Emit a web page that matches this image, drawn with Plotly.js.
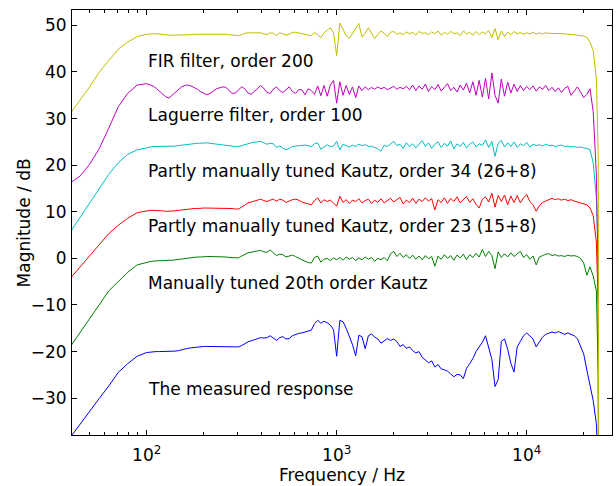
<!DOCTYPE html>
<html>
<head>
<meta charset="utf-8">
<script src="https://cdn.plot.ly/plotly-3.0.1.min.js"></script>
<style>html,body{margin:0;padding:0;background:#fff;}#chart{width:616px;height:486px;}</style>
</head>
<body>
<div id="chart"></div>
<script>
// Frequency grid (Hz)
var freqHz = [
  40, 44.7, 50.1, 56.2, 63.1, 70.8, 79.4, 89.1,
  100, 103.9, 108, 112.2, 116.6, 121.2, 125.9, 130.8, 135.9, 141.3,
  146.8, 152.5, 158.5, 164.7, 171.1, 177.8, 184.8, 192, 199.5, 207.3,
  215.4, 223.9, 232.6, 241.7, 251.2, 261, 271.2, 281.8, 292.9, 304.3,
  316.2, 328.6, 341.5, 354.8, 368.7, 383.1, 398.1, 413.7, 429.9, 446.7,
  464.2, 482.3, 501.2, 520.8, 541.2, 562.3, 584.3, 607.2, 631, 655.7,
  681.3, 707.9, 735.6, 764.4, 794.3, 825.4, 857.7, 891.3, 926.1, 962.4,
  1000, 1039, 1080, 1122, 1166, 1211, 1259, 1308, 1359, 1413,
  1468, 1525, 1585, 1647, 1711, 1778, 1848, 1920, 1995, 2073,
  2154, 2239, 2326, 2417, 2512, 2610, 2712, 2818, 2929, 3043,
  3162, 3286, 3415, 3548, 3687, 3831, 3981, 4137, 4299, 4467,
  4642, 4823, 5012, 5208, 5412, 5623, 5843, 6072, 6310, 6557,
  6813, 7079, 7356, 7644, 7943, 8254, 8577, 8913, 9261, 9624,
  10000, 10391, 10798, 11220, 11659, 12115, 12589, 13082, 13594, 14125,
  14678, 15252, 15849, 16469, 17113, 17783, 18478, 19201, 19953, 20734,
  21544, 22387, 23263,
  23800, 24000
];

// Magnitudes (dB)
var measuredDb = [
  -38.2, -35.5, -32.8, -30.1, -27.4, -24.5, -22.6, -21.0,
  -20.2, -20.1, -20.0, -20.0, -20.0, -20.0, -20.0, -20.0, -20.0, -19.9,
  -19.8, -19.6, -19.4, -19.3, -19.2, -19.1, -19.0, -19.0, -18.9, -18.9,
  -18.9, -18.9, -18.9, -18.9, -18.9, -18.9, -19.0, -19.0, -19.0, -19.0,
  -18.7, -18.3, -17.9, -17.7, -17.5, -17.2, -17.0, -17.1, -17.0, -16.6,
  -17.1, -17.6, -17.0, -16.8, -17.3, -17.2, -16.6, -16.3, -16.1, -16.0,
  -15.8, -15.6, -15.4, -14.0, -13.3, -13.9, -13.5, -13.8, -14.3, -15.3,
  -21.0, -13.3, -13.6, -15.0, -16.8, -18.5, -20.9, -16.5, -16.8, -19.4,
  -16.6, -16.2, -16.9, -17.3, -18.2, -17.6, -17.2, -17.6, -17.3, -17.8,
  -18.9, -18.5, -19.3, -19.0, -19.8, -20.3, -20.0, -21.2, -21.8, -22.4,
  -22.0, -23.3, -22.8, -23.7, -23.9, -24.2, -24.8, -25.4, -24.9, -25.0,
  -25.8, -23.6, -22.6, -21.5, -20.0, -19.0, -18.0, -16.6, -19.2, -21.7,
  -27.5, -26.0, -17.8, -17.3, -19.5, -22.5, -24.4, -19.0, -17.8, -16.6,
  -16.0, -16.6, -17.3, -19.0, -18.0, -16.9, -16.3, -16.1, -15.8, -16.0,
  -15.7, -16.0, -16.3, -16.0, -16.3, -16.6, -17.2, -19.0, -20.5, -24.0,
  -27.0, -30.5, -35.5,
  -45, -90
];
var kautz20Db = [
  -18.7, -15.9, -13.1, -10.0, -7.0, -4.9, -3.0, -1.4,
  -0.8, -0.7, -0.6, -0.5, -0.5, -0.5, -0.4, -0.4, -0.4, -0.3,
  -0.2, -0.1, 0.0, 0.1, 0.1, 0.2, 0.3, 0.3, 0.4, 0.4,
  0.4, 0.4, 0.4, 0.3, 0.3, 0.3, 0.2, 0.2, 0.1, 0.1,
  0.5, 0.9, 1.2, 1.3, 1.5, 1.6, 1.7, 1.4, 1.3, 1.8,
  1.2, 0.6, 0.9, 0.8, 0.3, 0.5, 0.7, 0.4, 0.0, -0.3,
  -0.6, -0.9, -1.0, 0.2, 0.5, -0.8, -0.2, 0.0, -0.5, 0.1,
  -0.3, 0.2, -0.4, 0.3, -0.2, 0.2, -0.5, 0.1, -0.3, 0.3,
  -0.2, 0.2, -0.6, 0.0, -0.3, 0.2, -0.5, 1.0, 1.5, 0.4,
  1.1, 0.2, 0.8, 0.0, 0.7, -0.2, 0.5, -0.3, 0.6, -0.1,
  0.4, -1.7, 0.5, -0.2, 0.8, 0.0, 0.6, -0.4, 0.7, 0.1,
  0.9, -0.3, 0.8, 0.2, 1.1, 0.3, 1.9, 0.4, 1.5, 0.6,
  -2.2, 1.4, 0.2, 1.0, 0.3, 1.2, 0.4, 0.9, 1.5, 0.2,
  0.8, -0.2, 0.5, -1.4, 0.3, 0.6, 0.9, 1.0, 0.6, 0.8,
  0.5, 0.6, 0.4, 0.7, 0.5, 0.6, 0.4, 0.0, -1.0, -3.6,
  -1.8, -3.8, -7.0,
  -25, -90
];
var kautz23Db = [
  -4.1, -1.8, 0.5, 3.0, 5.3, 7.1, 8.6, 9.8,
  10.2, 10.3, 10.3, 10.3, 10.2, 10.2, 10.1, 10.1, 10.1, 10.2,
  10.3, 10.4, 10.5, 10.6, 10.6, 10.7, 10.7, 10.8, 10.8, 10.8,
  10.8, 10.8, 10.8, 10.8, 10.8, 10.7, 10.7, 10.7, 10.6, 10.6,
  11.0, 11.5, 11.9, 12.1, 12.3, 12.5, 12.7, 12.4, 12.2, 12.5,
  12.7, 12.3, 12.7, 12.5, 12.0, 12.3, 12.6, 12.7, 12.5, 12.1,
  11.9, 11.7, 11.5, 12.4, 13.0, 11.9, 12.6, 12.2, 12.5, 11.9,
  11.2, 13.3, 12.0, 12.6, 11.8, 12.5, 12.2, 12.8, 11.9, 12.4,
  12.7, 11.8, 12.5, 12.0, 12.8, 11.9, 12.4, 12.9, 12.1, 12.6,
  13.1, 11.7, 12.5, 12.0, 12.9, 11.8, 12.7, 12.2, 13.0, 12.3,
  12.8, 10.4, 12.6, 12.0, 13.0, 11.8, 12.9, 12.2, 13.2, 11.9,
  12.6, 13.3, 12.0, 12.8, 11.6, 10.8, 12.7, 13.2, 12.1, 14.0,
  11.0, 13.5, 12.2, 13.6, 11.5, 13.4, 12.0, 13.5, 11.9, 13.0,
  13.7, 12.2, 11.5, 10.1, 11.3, 12.0, 12.3, 12.6, 12.9, 12.6,
  12.8, 12.5, 12.7, 12.4, 12.6, 12.3, 12.1, 12.0, 11.8, 11.5,
  10.8, 9.2, 3.5,
  -10, -90
];
var kautz34Db = [
  5.9, 8.9, 11.9, 15.1, 18.0, 20.5, 22.3, 23.3,
  23.8, 23.9, 24.0, 24.0, 24.0, 24.0, 24.0, 24.0, 24.1, 24.1,
  24.2, 24.3, 24.4, 24.5, 24.5, 24.6, 24.7, 24.7, 24.8, 24.8,
  24.7, 24.6, 24.5, 24.4, 24.4, 24.3, 24.2, 24.1, 24.0, 24.0,
  24.2, 24.5, 24.7, 24.8, 24.9, 25.0, 25.1, 24.8, 24.5, 24.7,
  24.6, 23.8, 24.1, 23.7, 23.3, 23.6, 24.0, 24.1, 24.2, 24.3,
  24.3, 24.2, 24.0, 24.6, 24.8, 23.4, 24.0, 24.4, 24.0, 24.1,
  25.1, 23.3, 24.5, 24.2, 23.9, 24.3, 24.0, 24.5, 24.2, 24.4,
  24.0, 24.1, 23.8, 23.5, 23.0, 24.3, 24.0, 24.6, 25.1, 24.2,
  24.5, 23.6, 24.8, 24.0, 24.6, 23.7, 24.4, 25.3, 24.0, 24.8,
  23.6, 24.5, 25.0, 23.8, 24.7, 24.1, 25.2, 23.5, 24.6, 24.0,
  24.9, 23.7, 24.5, 25.0, 23.9, 24.6, 24.2, 25.4, 23.8, 25.1,
  21.9, 24.7, 25.3, 23.9, 24.8, 24.0, 25.0, 23.8, 24.6, 24.2,
  24.9, 23.9, 24.5, 24.2, 24.4, 24.1, 24.5, 24.2, 24.3, 24.0,
  24.2, 24.3, 24.0, 24.1, 23.9, 24.0, 23.8, 23.9, 23.7, 23.6,
  23.3, 20.5, 13.0,
  0, -90
];
var laguerreDb = [
  16.3, 17.7, 20.2, 23.5, 27.9, 32.5, 35.4, 37.2,
  37.5, 37.3, 37.0, 36.5, 35.9, 35.3, 34.7, 34.4, 35.0, 35.8,
  36.4, 36.8, 37.1, 37.2, 37.0, 36.7, 36.3, 35.8, 35.4, 35.1,
  35.4, 35.9, 36.4, 36.6, 36.8, 36.7, 36.1, 35.4, 35.5, 36.2,
  36.8, 36.4, 35.5, 35.2, 35.9, 36.6, 37.1, 36.5, 35.6, 35.4,
  36.3, 36.8, 36.0, 35.6, 36.2, 36.8, 35.8, 35.4, 36.2, 36.2,
  35.1, 36.4, 36.0, 35.2, 37.0, 34.9, 37.1, 34.8, 37.2, 38.2,
  33.3, 37.9, 35.0, 37.1, 35.2, 36.8, 34.5, 37.0, 36.0, 36.8,
  36.2, 36.7, 36.3, 36.8, 36.4, 36.7, 36.2, 36.6, 36.9, 36.3,
  36.7, 36.4, 36.9, 36.2, 37.2, 36.0, 37.0, 36.3, 37.4, 35.8,
  36.9, 36.2, 37.3, 35.9, 36.8, 37.5, 36.0, 36.7, 35.7, 37.2,
  36.1, 37.6, 35.5, 37.9, 35.0, 38.2, 34.6, 38.6, 34.2, 39.8,
  35.0, 33.3, 38.5, 34.8, 37.8, 35.5, 37.4, 35.8, 37.1, 36.0,
  36.9, 36.2, 37.0, 35.9, 36.8, 36.3, 37.1, 36.0, 36.7, 35.8,
  36.6, 35.6, 36.5, 36.9, 35.0, 36.0, 36.8, 35.7, 34.5, 35.2,
  36.4, 31.5, 18.0,
  -5, -90
];
var firDb = [
  31.3, 34.0, 36.8, 39.9, 42.5, 44.9, 46.4, 47.6,
  48.1, 48.2, 48.2, 48.2, 48.1, 48.0, 48.0, 47.9, 47.9, 47.9,
  47.9, 48.0, 48.0, 48.0, 48.0, 48.1, 48.1, 48.1, 48.2, 48.2,
  48.2, 48.2, 48.2, 48.2, 48.1, 48.1, 48.0, 47.9, 47.8, 47.8,
  48.0, 48.3, 48.4, 48.4, 48.4, 48.4, 48.4, 48.2, 48.0, 48.4,
  48.3, 47.8, 48.4, 48.2, 47.9, 48.1, 48.5, 48.5, 48.4, 48.3,
  48.1, 47.9, 47.8, 48.5, 48.0, 47.4, 48.4, 48.9, 49.5, 48.4,
  43.5, 50.5, 49.0, 47.8, 47.2, 48.3, 49.2, 50.4, 47.5, 48.3,
  49.5, 48.5, 47.2, 48.0, 48.8, 48.3, 47.6, 48.5, 48.7, 48.1,
  48.4, 48.0, 48.6, 48.2, 48.5, 47.9, 48.7, 48.3, 48.4, 48.0,
  48.6, 48.2, 48.8, 47.9, 48.5, 48.1, 48.7, 48.2, 48.4, 47.8,
  48.8, 48.2, 48.5, 47.9, 48.7, 48.0, 48.6, 48.2, 48.9, 47.4,
  49.3, 46.9, 48.8, 47.6, 48.6, 48.0, 48.7, 48.2, 48.5, 48.1,
  48.4, 48.2, 48.5, 48.1, 48.4, 48.2, 48.4, 48.3, 48.3, 48.2,
  48.3, 48.2, 48.2, 48.1, 48.1, 48.0, 47.9, 47.8, 47.7, 47.4,
  46.4, 44.6, 38.5,
  22, -90
];

var curveLabels = [
  'FIR filter, order 200',
  'Laguerre filter, order 100',
  'Partly manually tuned Kautz, order 34 (26+8)',
  'Partly manually tuned Kautz, order 23 (15+8)',
  'Manually tuned 20th order Kautz',
  'The measured response'
];
var xTickVals = [100, 1000, 10000];
var xTickText = ['10<sup>2</sup>', '10<sup>3</sup>', '10<sup>4</sup>'];
var xMinorVals = [50, 60, 70, 80, 90, 200, 300, 400, 500, 600, 700, 800, 900,
  2000, 3000, 4000, 5000, 6000, 7000, 8000, 9000, 20000];
var yTickVals = [-30, -20, -10, 0, 10, 20, 30, 40, 50];
var yTickText = ['\u221230', '\u221220', '\u221210', '0', '10', '20', '30', '40', '50'];

var series = [firDb, laguerreDb, kautz34Db, kautz23Db, kautz20Db, measuredDb];
var colors = ['#bfbf00', '#bf00bf', '#00bfbf', '#ff0000', '#008000', '#0000ff'];
var labelY = [42.4, 30.7, 18.8, 7.0, -5.2, -28.0];

var FONT = 'DejaVu Sans, Liberation Sans, Arial, sans-serif';

var traces = [];
for (var i = series.length - 1; i >= 0; i--) {
  traces.push({
    x: freqHz, y: series[i], type: 'scatter', mode: 'lines',
    line: {color: colors[i], width: 1}, hoverinfo: 'skip', showlegend: false
  });
}

var annotations = curveLabels.map(function (t, i) {
  return {
    text: t, xref: 'x', yref: 'y', x: 1.995, y: labelY[i],
    xanchor: 'left', yanchor: 'middle', showarrow: false,
    font: {family: FONT, size: 17, color: '#000'}
  };
});
// y-axis title placed as a rotated annotation
annotations.push({
  text: 'Magnitude / dB', xref: 'paper', yref: 'paper',
  x: -0.089, y: 0.5, xanchor: 'center', yanchor: 'middle',
  textangle: -90, showarrow: false,
  font: {family: FONT, size: 17, color: '#000'}
});

var layout = {
  width: 616, height: 486,
  margin: {l: 72, r: 4, t: 10, b: 51, pad: 0},
  paper_bgcolor: '#fff', plot_bgcolor: '#fff',
  showlegend: false,
  font: {family: FONT, size: 17, color: '#000'},
  xaxis: {
    type: 'log', range: [1.607, 4.449], autorange: false,
    tickmode: 'array', tickvals: xTickVals, ticktext: xTickText,
    ticks: 'inside', ticklen: 5, tickwidth: 1, tickcolor: '#000',
    ticklabelstandoff: 5,
    showline: true, linecolor: '#000', linewidth: 1, mirror: 'allticks',
    showgrid: false, zeroline: false,
    tickfont: {family: FONT, size: 17, color: '#000'},
    minor: {tickmode: 'array', tickvals: xMinorVals, ticks: 'inside', ticklen: 3,
            tickwidth: 1, tickcolor: '#000', showgrid: false},
    title: {text: 'Frequency / Hz', font: {family: FONT, size: 17, color: '#000'}, standoff: 4}
  },
  yaxis: {
    range: [-37.9, 53.3], autorange: false,
    tickmode: 'array', tickvals: yTickVals, ticktext: yTickText,
    ticks: 'inside', ticklen: 5, tickwidth: 1, tickcolor: '#000',
    ticklabelstandoff: 1,
    showline: true, linecolor: '#000', linewidth: 1, mirror: 'allticks',
    showgrid: false, zeroline: false,
    tickfont: {family: FONT, size: 17, color: '#000'}
  },
  annotations: annotations
};

Plotly.newPlot('chart', traces, layout, {displayModeBar: false, staticPlot: true});
</script>
</body>
</html>
